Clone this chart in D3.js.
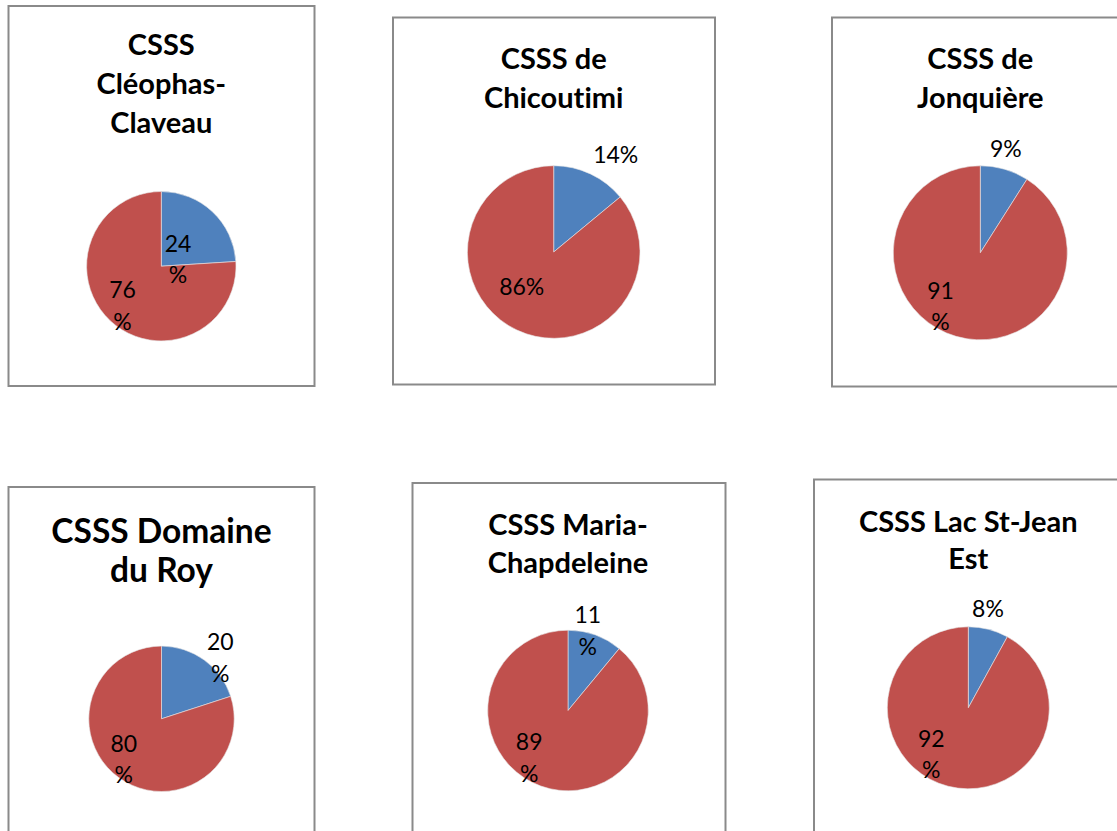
<!DOCTYPE html>
<html>
<head>
<meta charset="utf-8">
<script src="https://cdn.jsdelivr.net/npm/d3@7"></script>
<style>
  html, body { margin: 0; padding: 0; background: #fff; }
  text { font-variant-ligatures: none; font-feature-settings: "liga" 0; }
  .title { font-family: Lato, "Open Sans", sans-serif; font-weight: 700; fill: #000; }
  .label { font-family: Lato, "Open Sans", sans-serif; font-size: 23px; fill: #000; }
</style>
</head>
<body>
<div id="chart"></div>
<script>
// one entry per CSSS
const titles = [
  ["CSSS", "Cléophas-", "Claveau"],
  ["CSSS de", "Chicoutimi"],
  ["CSSS de", "Jonquière"],
  ["CSSS Domaine", "du Roy"],
  ["CSSS Maria-", "Chapdeleine"],
  ["CSSS Lac St-Jean", "Est"]
];
const blueValues = [24, 14, 9, 20, 11, 8];
const redValues = [76, 86, 91, 80, 89, 92];
// how each data label wraps (Excel squeezes some labels onto two lines)
const blueLabels = [["24", "%"], ["14%"], ["9%"], ["20", "%"], ["11", "%"], ["8%"]];
const redLabels = [["76", "%"], ["86%"], ["91", "%"], ["80", "%"], ["89", "%"], ["92", "%"]];
const colors = ["#4F81BD", "#C0504D"];

// frame box, pie centre/radius, title size + first baseline, label offsets (from centre)
const layout = [
  { x: 8.5, y: 6, w: 306, h: 380, cx: 161.3, cy: 266.2, r: 74.7, fs: 29, ty: 55, lh: 39,
    lb: [16.7, -14.5], lr: [-38.8, 32] },
  { x: 393, y: 17.5, w: 322, h: 367, cx: 553.7, cy: 252, r: 86.3, fs: 29, ty: 69, lh: 39,
    lb: [62, -88.7], lr: [-32, 43] },
  { x: 832, y: 17.5, w: 320, h: 369, cx: 980.3, cy: 252.8, r: 87, fs: 29, ty: 69, lh: 39,
    lb: [25.5, -96], lr: [-39.8, 46] },
  { x: 8.5, y: 487, w: 306, h: 400, cx: 161.5, cy: 718.8, r: 72.7, fs: 33.5, ty: 542.5, lh: 39,
    lb: [58.8, -68.8], lr: [-37.7, 33] },
  { x: 412.5, y: 483, w: 313, h: 400, cx: 568, cy: 710.5, r: 80.3, fs: 29, ty: 535, lh: 37.5,
    lb: [19.8, -87.2], lr: [-38.8, 39.5] },
  { x: 814, y: 479.5, w: 320, h: 400, cx: 968.3, cy: 707.8, r: 81, fs: 29, ty: 531.5, lh: 37,
    lb: [19.7, -91], lr: [-37, 39] }
];

const svg = d3.select("#chart").append("svg")
  .attr("width", 1117)
  .attr("height", 831);

const pie = d3.pie().sort(null).value(d => d);

layout.forEach((p, i) => {
  svg.append("rect")
    .attr("x", p.x)
    .attr("y", p.y)
    .attr("width", p.w)
    .attr("height", p.h)
    .attr("fill", "none")
    .attr("stroke", "#8a8a8a")
    .attr("stroke-width", 2);

  const title = svg.append("text")
    .attr("class", "title")
    .attr("text-anchor", "middle")
    .style("font-size", p.fs + "px");
  titles[i].forEach((line, k) => {
    title.append("tspan")
      .attr("x", p.cx)
      .attr("y", p.ty + k * p.lh)
      .text(line);
  });

  const arc = d3.arc().innerRadius(0).outerRadius(p.r);
  const g = svg.append("g").attr("transform", `translate(${p.cx},${p.cy})`);
  g.selectAll("path")
    .data(pie([blueValues[i], redValues[i]]))
    .enter()
    .append("path")
    .attr("d", arc)
    .attr("fill", (d, k) => colors[k])
    .attr("stroke", "#e8e8e8")
    .attr("stroke-width", 0.6);

  [[blueLabels[i], p.lb], [redLabels[i], p.lr]].forEach(([lines, off]) => {
    const t = g.append("text")
      .attr("class", "label")
      .attr("text-anchor", "middle");
    lines.forEach((line, k) => {
      t.append("tspan")
        .attr("x", off[0])
        .attr("y", off[1] + k * 31.5)
        .text(line);
    });
  });
});
</script>
</body>
</html>
